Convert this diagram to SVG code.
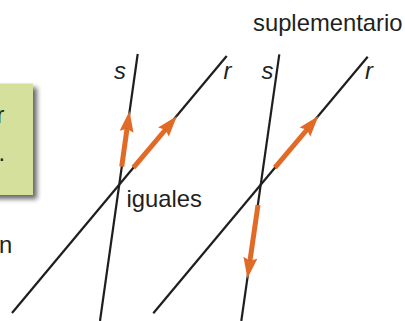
<svg xmlns="http://www.w3.org/2000/svg" width="405" height="321" viewBox="0 0 405 321">
<style>
.ln{stroke:#1f1d1e;stroke-width:2.2;fill:none}
.ar{stroke:#e26a27;stroke-width:5;fill:none;marker-end:url(#ah)}
.t{font-family:"Liberation Sans",Arial,sans-serif;font-size:23.8px;fill:#231f20}
.it{font-style:italic}
</style>
<defs>
<marker id="ah" markerUnits="userSpaceOnUse" markerWidth="24" markerHeight="16" refX="3" refY="0" viewBox="0 -8 24 16" orient="auto" overflow="visible">
<path d="M0,-7 L21,0 L0,7 L3,0 Z" fill="#e26a27"/>
</marker>
<filter id="sh" x="-20%" y="-20%" width="150%" height="150%">
<feGaussianBlur in="SourceAlpha" stdDeviation="2.5"/>
<feOffset dx="4" dy="4" result="b"/>
<feComponentTransfer><feFuncA type="linear" slope="0.6"/></feComponentTransfer>
<feMerge><feMergeNode/><feMergeNode in="SourceGraphic"/></feMerge>
</filter>
</defs>
<g id="box">
<rect x="-20" y="83.5" width="53" height="111.5" fill="#d4e09b" filter="url(#sh)"/>
<text class="t" x="-3.5" y="123">r</text>
<text class="t" x="-1.5" y="161">.</text>
</g>
<text class="t" x="-1" y="253">n</text>
<g id="connectors">
<line class="ln" x1="12" y1="313" x2="226.7" y2="56"/>
<line class="ln" x1="137.7" y1="54" x2="100" y2="321"/>
<line class="ln" x1="153.3" y1="313.3" x2="367.7" y2="56.7"/>
<line class="ln" x1="279.3" y1="54.3" x2="241.3" y2="321"/>
<line class="ar" x1="121.7" y1="166.7" x2="127" y2="128.8"/>
<line class="ar" x1="133.4" y1="167.7" x2="165.4" y2="129.76"/>
<line class="ar" x1="274.9" y1="167.7" x2="306.9" y2="129.76"/>
<line class="ar" x1="258" y1="205" x2="249.97" y2="260.68"/>
</g>
<g id="labels">
<text class="t it" x="114" y="79">s</text>
<text class="t it" x="223.5" y="79">r</text>
<text class="t it" x="261.5" y="79">s</text>
<text class="t it" x="365" y="79">r</text>
<text class="t" x="253" y="31">suplementario</text>
<text class="t" x="126.5" y="206.5">iguales</text>
</g>
</svg>
